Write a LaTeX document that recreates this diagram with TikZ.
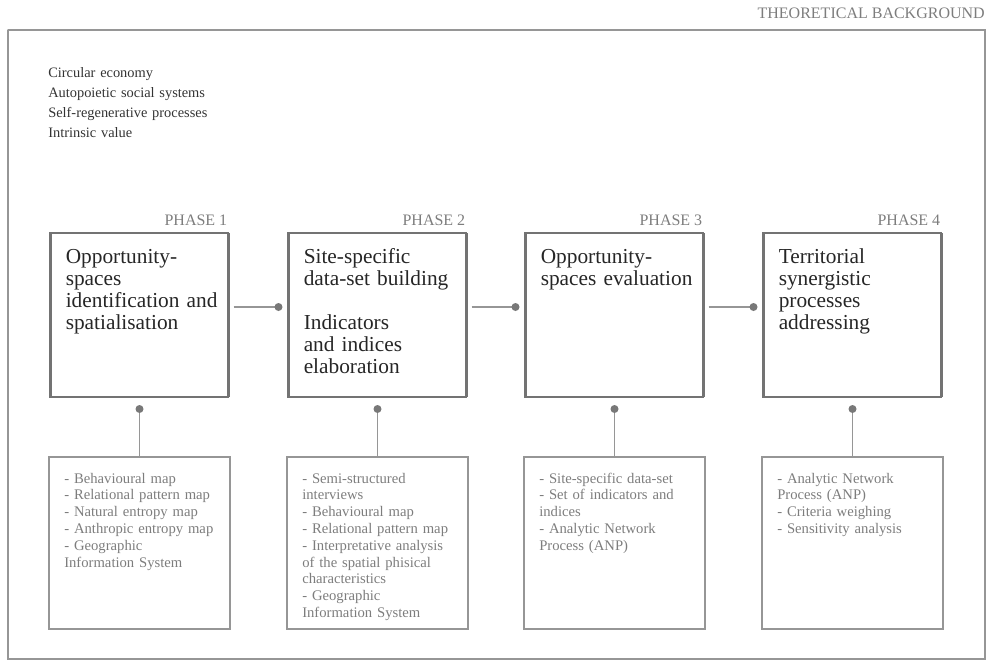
\documentclass[tikz,border=0pt]{standalone}
\usepackage{fontspec}
\setmainfont{Liberation Serif}
\usetikzlibrary{positioning}
\definecolor{hatchgray}{RGB}{115,115,115}
\definecolor{bandgray}{RGB}{190,190,190}
\definecolor{linegray}{RGB}{150,150,150}
\definecolor{labelgray}{RGB}{125,125,125}
\definecolor{dotgray}{RGB}{120,120,120}

\begin{document}
\begin{tikzpicture}[x=0.75pt,y=-0.75pt,
  hatched/.style={draw=hatchgray,line width=2.2pt,dash pattern=on 0.3pt off 0.3pt,
    preaction={draw=bandgray,line width=2.2pt}},
  frame/.style={hatched,draw=hatchgray!75,line width=1.9pt,preaction={draw=bandgray!70,line width=1.9pt}},
  phasebox/.style={hatched,minimum width=133.5pt,minimum height=123pt,inner sep=0pt,outer sep=0pt},
  toolbox/.style={draw=linegray,line width=1pt,minimum width=135.75pt,minimum height=129pt,inner sep=0pt,outer sep=0pt},
  phasetext/.style={anchor=base west,align=left,text width=126pt,inner sep=0pt,
    font=\fontsize{16}{16.5}\selectfont,text=black!85},
  tooltext/.style={anchor=base west,align=left,text width=126pt,inner sep=0pt,
    font=\fontsize{11}{12.6}\selectfont,text=labelgray},
  tag/.style={anchor=base east,inner sep=0pt,font=\fontsize{12}{14}\selectfont,text=labelgray},
  conn/.style={draw=linegray,line width=0.9pt},
  dot/.style={circle,fill=dotgray,inner sep=0pt,minimum size=6pt}]
  \useasboundingbox (0,0) rectangle (990,662);
  % frame of the theoretical background
  \node[tag] (background) at (985,18) {THEORETICAL BACKGROUND};
  \draw[frame] (8,30) rectangle (985,659);
  \node[anchor=base west,align=left,text width=200pt,inner sep=0pt,
    font=\fontsize{10.8}{15}\selectfont,text=black!80] (concepts) at (48,77)
    {Circular economy\\Autopoietic social systems\\Self-regenerative processes\\Intrinsic value};
  % phases and their tools
  \foreach \i/\x/\title/\tools in {
    1/139.5/{Opportunity-\\spaces\\identification and\\spatialisation}/{- Behavioural map\\- Relational pattern map\\- Natural entropy map\\- Anthropic entropy map\\- Geographic\\Information System},
    2/377.5/{Site-specific\\data-set building\\[16.5pt]Indicators\\and indices\\elaboration}/{- Semi-structured\\interviews\\- Behavioural map\\- Relational pattern map\\- Interpretative analysis\\of the spatial phisical\\characteristics\\- Geographic\\Information System},
    3/614.5/{Opportunity-\\spaces evaluation}/{- Site-specific data-set\\- Set of indicators and\\indices\\- Analytic Network\\Process (ANP)},
    4/852.5/{Territorial\\synergistic\\processes\\addressing}/{- Analytic Network\\Process (ANP)\\- Criteria weighing\\- Sensitivity analysis}
  }{
    \node[phasebox] (p\i) at (\x,315) {};
    \node[tag] (t\i) at ([shift={(-1,-8)}]p\i.north east) {PHASE \i};
    \node[phasetext] (n\i) at ([shift={(15,30)}]p\i.north west) {\title};
    \node[toolbox] (l\i) at (\x,543) {};
    \node[tooltext] (m\i) at ([shift={(15,26)}]l\i.north west) {\tools};
    \draw[conn] ([shift={(0,12)}]p\i.south) node[dot] (v\i) {} -- (l\i.north);
  }
  % links between phases
  \foreach \i/\j in {1/2,2/3,3/4}
    \draw[conn] ([shift={(5,-8)}]p\i.east) -- ([shift={(-10,-8)}]p\j.west) node[dot] (h\i) {};
\end{tikzpicture}
\end{document}
